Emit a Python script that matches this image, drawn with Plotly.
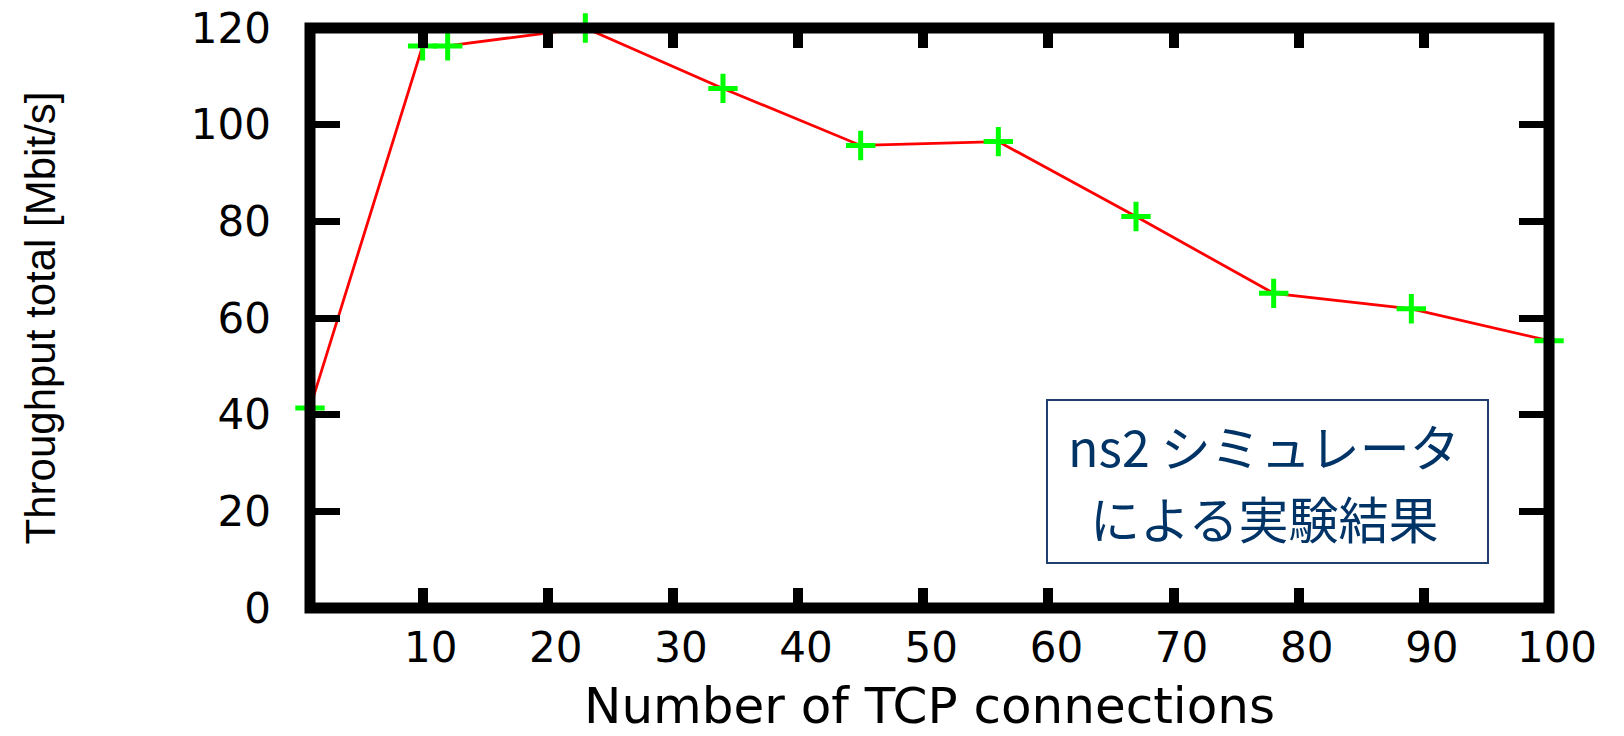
import plotly.graph_objects as go

# Data
connections = [1, 10, 12, 23, 34, 45, 56, 67, 78, 89, 100]
throughput = [41.4, 116.3, 116.3, 120.0, 107.5, 95.7, 96.5, 81.0, 65.1, 61.9, 55.3]
x_ticks = [10, 20, 30, 40, 50, 60, 70, 80, 90, 100]
y_ticks = [0, 20, 40, 60, 80, 100, 120]
x_title = "Number of TCP connections"
y_title = "Throughput total [Mbit/s]"
box_lines = ["ns2 シミュレータ", "による実験結果"]

W, H = 1624, 736
L, R, T, B = 310, 75, 28, 128
PW, PH = W - L - R, H - T - B


def px_x(p):
    return (p - L) / PW


def px_y(p):
    return 1 - (p - T) / PH


fig = go.Figure()
fig.add_trace(go.Scatter(
    x=connections, y=throughput, mode="lines",
    line=dict(color="#ff0000", width=2.8),
    hoverinfo="skip", showlegend=False,
))
fig.add_trace(go.Scatter(
    x=connections, y=throughput, mode="markers",
    marker=dict(symbol="cross-thin", size=21,
                line=dict(color="#00ff00", width=5)),
    cliponaxis=False, showlegend=False,
))

tick_font = dict(family="DejaVu Sans, Liberation Sans, sans-serif", size=42, color="#000000")

fig.update_xaxes(
    range=[1, 100], tickvals=x_ticks, ticktext=[str(v) for v in x_ticks],
    showgrid=False, zeroline=False, showline=False, automargin=False,
    ticks="inside", ticklen=20, tickwidth=10, tickcolor="#000000",
    mirror="ticks", tickfont=tick_font, ticklabelstandoff=11, ticklabelshift=8,
    title=dict(text=x_title, standoff=16,
               font=dict(family="DejaVu Sans, Liberation Sans, sans-serif", size=50, color="#000000")),
)
fig.update_yaxes(
    range=[0, 120], tickvals=y_ticks, ticktext=[str(v) for v in y_ticks],
    showgrid=False, zeroline=False, showline=False, automargin=False,
    ticks="inside", ticklen=30, tickwidth=7, tickcolor="#000000",
    mirror="ticks", tickfont=tick_font, ticklabelstandoff=38,
    title=dict(text=y_title, standoff=122,
               font=dict(family="Liberation Sans Narrow, Liberation Sans, sans-serif", size=42, color="#000000")),
)

# plot frame
fig.add_shape(type="rect", xref="paper", yref="paper", x0=0, x1=1, y0=0, y1=1,
              line=dict(color="#000000", width=11), layer="above")

# text box
fig.add_shape(type="rect", xref="paper", yref="paper",
              x0=px_x(1047), x1=px_x(1488), y0=px_y(563), y1=px_y(400),
              line=dict(color="#1f3f6e", width=2), fillcolor="#ffffff", layer="above")
for line_text, ypix in zip(box_lines, [445, 517]):
    fig.add_annotation(
        xref="paper", yref="paper", x=px_x(1264), y=px_y(ypix),
        xanchor="center", yanchor="middle",
        text=line_text, showarrow=False, align="center",
        font=dict(family="Noto Sans CJK JP, sans-serif", size=50, color="#003366"),
    )

fig.update_layout(
    width=W, height=H, margin=dict(l=L, r=R, t=T, b=B),
    plot_bgcolor="#ffffff", paper_bgcolor="#ffffff",
)

fig.write_html("out.html")
